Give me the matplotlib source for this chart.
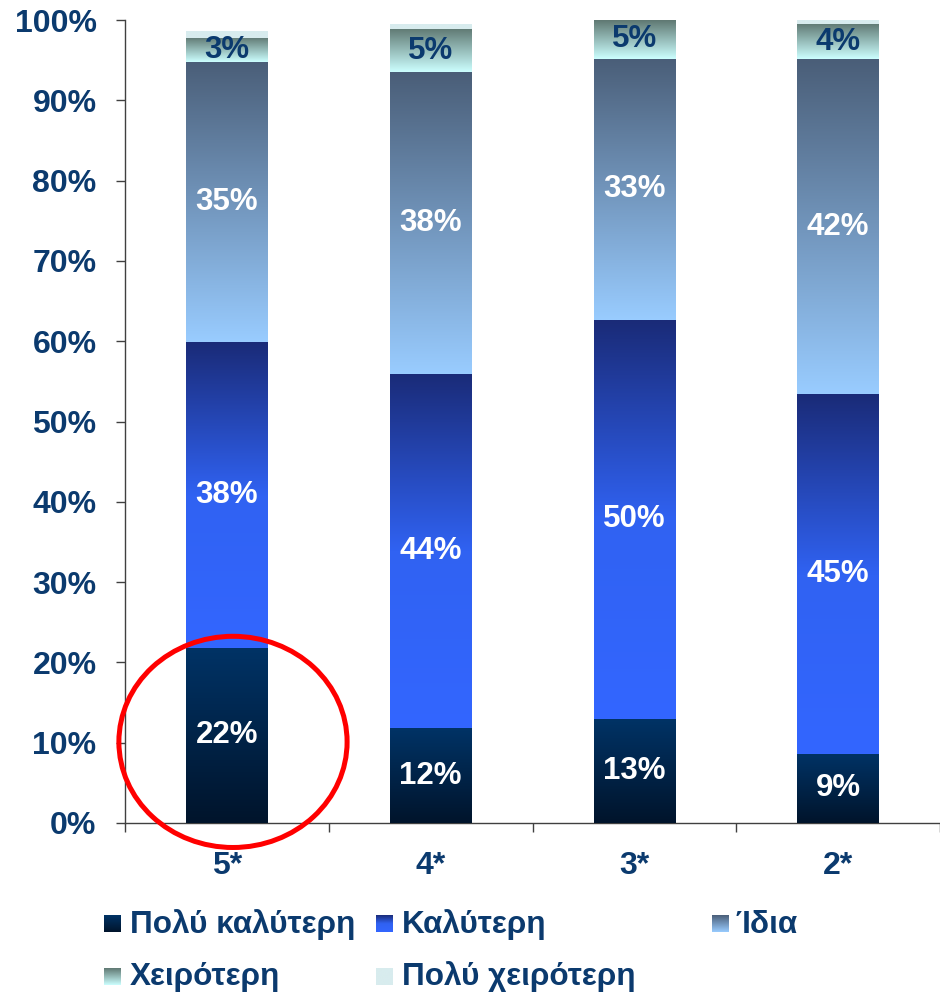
import numpy as np
import matplotlib
matplotlib.use("Agg")
import matplotlib.pyplot as plt
from matplotlib.colors import LinearSegmentedColormap
from matplotlib.patches import Ellipse

plt.rcParams['font.family'] = ['Liberation Sans', 'DejaVu Sans']

# ---- data ----
categories = ["5*", "4*", "3*", "2*"]
series_names = ["Πολύ καλύτερη", "Καλύτερη", "Ίδια", "Χειρότερη", "Πολύ χειρότερη"]
poly_kalyteri = [21.8, 11.8, 13.0, 8.6]
kalyteri = [38.1, 44.1, 49.6, 44.8]
idia = [34.9, 37.6, 32.6, 41.7]
xeiroteri = [3.0, 5.4, 4.8, 4.4]
poly_xeiroteri = [0.8, 0.6, 0.0, 0.5]
y_ticks = [0, 10, 20, 30, 40, 50, 60, 70, 80, 90, 100]

series = [poly_kalyteri, kalyteri, idia, xeiroteri, poly_xeiroteri]

# ---- styles ----
NAVY = "#0b3a6e"
grad_stops = [
    ["#00142b", "#003366"],
    ["#3366ff", "#3062f2", "#1a2b78"],
    ["#99ccff", "#4a5e78"],
    ["#ccffff", "#5f7872"],
    ["#d8ecee", "#d8ecee"],
]
cmaps = [LinearSegmentedColormap.from_list(f"g{i}", s) for i, s in enumerate(grad_stops)]
label_colors = ["white", "white", "white", NAVY, None]
grad = np.linspace(0, 1, 256).reshape(-1, 1)

W, H = 940, 994
fig = plt.figure(figsize=(W / 100, H / 100), dpi=100)
ax = fig.add_axes([125 / W, 1 - 823 / H, (940 - 125) / W, (823 - 20) / H])

x = np.arange(len(categories))
bottom = np.zeros(len(categories))
for k, vals in enumerate(series):
    vals = np.array(vals, dtype=float)
    bars = ax.bar(x, vals, width=0.4, bottom=bottom, color=cmaps[k](0.5),
                  linewidth=0, zorder=2)
    for b in bars:
        if b.get_height() <= 0:
            continue
        x0, y0 = b.get_x(), b.get_y()
        ax.imshow(grad, cmap=cmaps[k], vmin=0, vmax=1, origin='lower',
                  extent=[x0, x0 + b.get_width(), y0, y0 + b.get_height()],
                  aspect='auto', zorder=3, interpolation='bilinear')
    if label_colors[k] is not None:
        for xi, v, b0 in zip(x, vals, bottom):
            if v > 0:
                ax.text(xi, b0 + v / 2, f"{round(v)}%", ha='center', va='center',
                        color=label_colors[k], fontsize=22.5, fontweight='bold', zorder=4)
    bottom = bottom + vals

ax.set_xlim(-0.5, 3.5)
ax.set_ylim(0, 100)

# axes styling
for s in ["top", "right"]:
    ax.spines[s].set_visible(False)
for s in ["left", "bottom"]:
    ax.spines[s].set_color("#404040")
    ax.spines[s].set_linewidth(1.0)

ax.set_yticks(y_ticks)
ax.set_yticklabels([f"{t}%" for t in y_ticks])
ax.tick_params(axis='y', length=6.5, width=1.0, color="#404040", pad=14,
               labelsize=23, labelcolor=NAVY)
for lab in ax.get_yticklabels():
    lab.set_fontweight('bold')

ax.set_xticks(x)
ax.set_xticklabels(categories)
ax.set_xticks(np.arange(-0.5, 3.6, 1.0), minor=True)
ax.tick_params(axis='x', which='major', length=0, pad=20, labelsize=23, labelcolor=NAVY)
ax.tick_params(axis='x', which='minor', length=6.5, width=1.0, color="#404040")
for lab in ax.get_xticklabels():
    lab.set_fontweight('bold')

# red highlight ellipse around the first category
ell = Ellipse((0.03, 10.1), 1.12, 26.3, fill=False, edgecolor='#ff0000',
              linewidth=3.6, clip_on=False, zorder=6)
ax.add_patch(ell)

# ---- manual legend (pixel coordinates overlay) ----
lax = fig.add_axes([0, 0, 1, 1], zorder=10)
lax.set_xlim(0, W)
lax.set_ylim(H, 0)
lax.axis('off')
leg_pos = [(104, 915, 130, 933), (376, 915, 402, 933), (712, 915, 735, 933),
           (104, 968, 130, 985), (376, 968, 402, 985)]
for k, (mx, my, tx, ty) in enumerate(leg_pos):
    lax.imshow(grad, cmap=cmaps[k], vmin=0, vmax=1, origin='lower',
               extent=[mx, mx + 17, my + 17, my], aspect='auto',
               interpolation='bilinear')
    lax.text(tx, ty, series_names[k], ha='left', va='baseline', color=NAVY,
             fontsize=22.7, fontweight='bold')
lax.set_xlim(0, W)
lax.set_ylim(H, 0)

fig.savefig("out.png", dpi=100)
